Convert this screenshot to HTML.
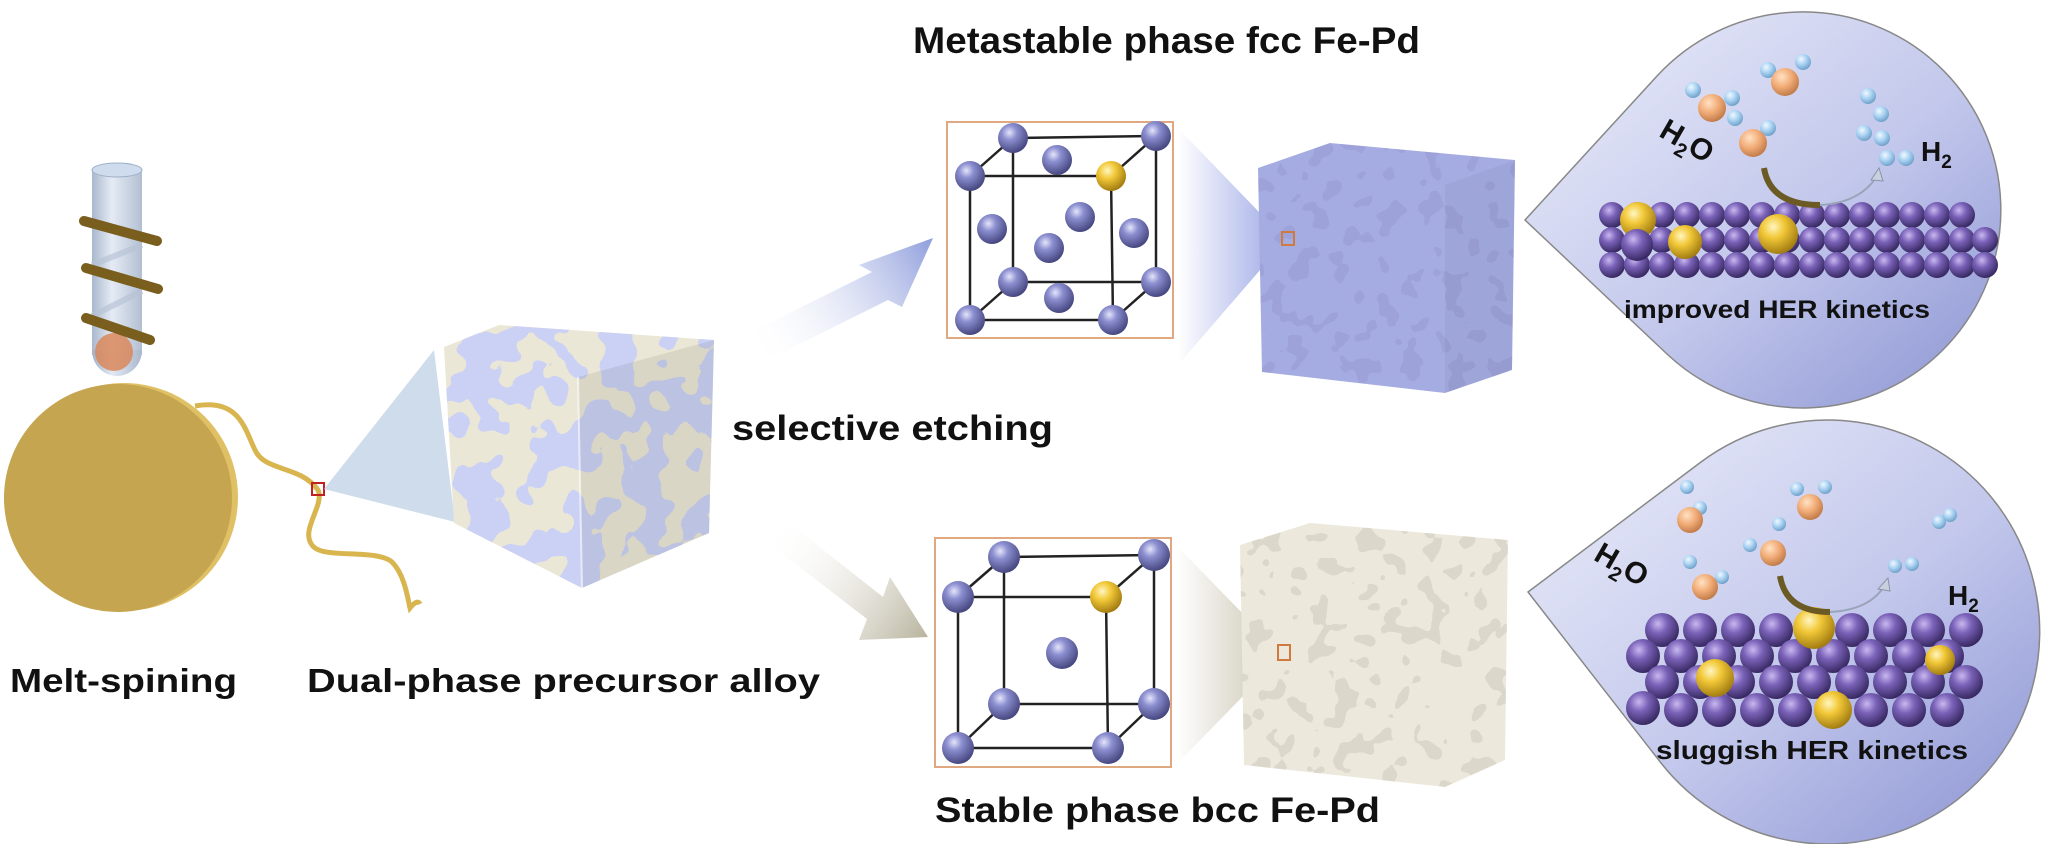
<!DOCTYPE html>
<html><head><meta charset="utf-8"><style>
html,body{margin:0;padding:0;background:#fff;}
svg{display:block;}
text{font-family:"Liberation Sans",Arial,sans-serif;font-weight:bold;fill:#111;}
</style></head><body>
<svg width="2048" height="844" viewBox="0 0 2048 844" xmlns="http://www.w3.org/2000/svg">
<defs>
<radialGradient id="pa" cx="38%" cy="32%" r="70%"><stop offset="0" stop-color="#e4e5fa"/><stop offset="0.35" stop-color="#8c8fd0"/><stop offset="1" stop-color="#44457e"/></radialGradient>
<radialGradient id="pb" cx="38%" cy="32%" r="70%"><stop offset="0" stop-color="#c9b8f0"/><stop offset="0.4" stop-color="#7a62b8"/><stop offset="1" stop-color="#35275f"/></radialGradient>
<radialGradient id="ya" cx="38%" cy="32%" r="70%"><stop offset="0" stop-color="#fff6c0"/><stop offset="0.4" stop-color="#f2c838"/><stop offset="1" stop-color="#a07a10"/></radialGradient>
<radialGradient id="oa" cx="38%" cy="32%" r="70%"><stop offset="0" stop-color="#ffe2c4"/><stop offset="0.5" stop-color="#f2ad78"/><stop offset="1" stop-color="#c07a48"/></radialGradient>
<radialGradient id="ha" cx="38%" cy="32%" r="70%"><stop offset="0" stop-color="#f0f8ff"/><stop offset="0.5" stop-color="#a9d2f2"/><stop offset="1" stop-color="#6e9fc8"/></radialGradient>
<linearGradient id="drop" x1="0" y1="0" x2="1" y2="1"><stop offset="0" stop-color="#eceef9"/><stop offset="0.55" stop-color="#c3c8ec"/><stop offset="1" stop-color="#8a93d2"/></linearGradient>
<linearGradient id="tube" x1="0" y1="0" x2="1" y2="0"><stop offset="0" stop-color="#9fb0c8"/><stop offset="0.4" stop-color="#e2e9f4"/><stop offset="1" stop-color="#aab8cc"/></linearGradient>
<linearGradient id="arrU" x1="751" y1="350" x2="933" y2="238" gradientUnits="userSpaceOnUse"><stop offset="0" stop-color="#fff" stop-opacity="0"/><stop offset="1" stop-color="#8e9ddc"/></linearGradient>
<linearGradient id="arrD" x1="771" y1="527" x2="928" y2="637" gradientUnits="userSpaceOnUse"><stop offset="0" stop-color="#fff" stop-opacity="0"/><stop offset="1" stop-color="#b8b39d"/></linearGradient>
<linearGradient id="wedgeB" x1="0" y1="0" x2="1" y2="0"><stop offset="0" stop-color="#fff"/><stop offset="1" stop-color="#8895e0"/></linearGradient>
<linearGradient id="wedgeC" x1="0" y1="0" x2="1" y2="0"><stop offset="0" stop-color="#fff"/><stop offset="1" stop-color="#bcb69e"/></linearGradient>
<filter id="fBlue" x="0" y="0" width="100%" height="100%">
<feTurbulence type="fractalNoise" baseFrequency="0.03" numOctaves="2" seed="4"/>
<feColorMatrix type="matrix" values="0 0 0 0 0.60  0 0 0 0 0.64  0 0 0 0 0.90  1 0 0 0 0"/>
<feComponentTransfer><feFuncA type="discrete" tableValues="0 0 0 0 0 1 1 1 1 1"/></feComponentTransfer>
</filter>
<filter id="fDark" x="0" y="0" width="100%" height="100%">
<feTurbulence type="fractalNoise" baseFrequency="0.045" numOctaves="2" seed="9"/>
<feColorMatrix type="matrix" values="0 0 0 0 0.2  0 0 0 0 0.2  0 0 0 0 0.45  1 0 0 0 0"/>
<feComponentTransfer><feFuncA type="discrete" tableValues="0 0 0 0 0 0 0.2 0.2 0.2 0.2"/></feComponentTransfer>
</filter>
<filter id="fGrey" x="0" y="0" width="100%" height="100%">
<feTurbulence type="fractalNoise" baseFrequency="0.045" numOctaves="2" seed="2"/>
<feColorMatrix type="matrix" values="0 0 0 0 0.45  0 0 0 0 0.43  0 0 0 0 0.36  1 0 0 0 0"/>
<feComponentTransfer><feFuncA type="discrete" tableValues="0 0 0 0 0 0 0.3 0.3 0.3 0.3"/></feComponentTransfer>
</filter>
<clipPath id="c1"><polygon points="444,347 499,325 714,340 709,533 582,588 454,523"/></clipPath>
<clipPath id="c2"><polygon points="1258,168 1330,143 1515,160 1512,370 1445,393 1262,372"/></clipPath>
<clipPath id="c3"><polygon points="1240,545 1310,523 1508,540 1505,760 1445,787 1244,765"/></clipPath>
</defs>

<!-- Tube -->
<rect x="92" y="170" width="50" height="185" fill="url(#tube)" opacity="0.9"/>
<ellipse cx="117" cy="170" rx="25" ry="7" fill="#cfdcee" stroke="#9fb0c8"/>
<path d="M92,350 A25,26 0 0 0 142,350 Z" fill="url(#tube)"/>
<circle cx="114" cy="352" r="19" fill="#d9875a" opacity="0.85"/>
<g stroke="#b8c4d6" stroke-width="6" opacity="0.7"><line x1="142" y1="245" x2="92" y2="265"/><line x1="142" y1="291" x2="92" y2="316"/></g>
<g stroke="#7a5e1e" stroke-width="10" stroke-linecap="round"><line x1="84" y1="221" x2="157" y2="241"/><line x1="86" y1="268" x2="158" y2="289"/><line x1="86" y1="318" x2="150" y2="340"/></g>

<!-- Wheel -->
<circle cx="124" cy="497" r="114" fill="#e0c064"/>
<circle cx="118" cy="498" r="114" fill="#c5a54f"/>
<path d="M195,406 C240,398 245,430 255,450 C265,472 300,465 318,490 C325,505 300,530 312,545 C322,560 375,548 392,562 C405,575 408,600 410,608 C414,603 418,600 420,604" fill="none" stroke="#d9b550" stroke-width="5"/>
<rect x="312" y="483" width="12" height="12" fill="none" stroke="#c02020" stroke-width="2"/>
<polygon points="324,489 434,350 455,522" fill="#c6d6e8" opacity="0.85"/>

<!-- Cube 1 -->
<rect x="440" y="320" width="280" height="272" fill="#ebe7d6" clip-path="url(#c1)"/>
<rect x="440" y="320" width="280" height="272" filter="url(#fBlue)" clip-path="url(#c1)"/>
<polygon points="578,377 714,340 709,533 582,588" fill="#000" opacity="0.07"/>
<line x1="578" y1="377" x2="582" y2="588" stroke="#fff" stroke-width="2" opacity="0.6"/>

<!-- Arrows -->
<polygon points="743,336 872,272 859,265 933,238 902,307 888,300 759,364" fill="url(#arrU)"/>
<polygon points="779,515 883,597 890,577 928,637 859,640 867,619 763,539" fill="url(#arrD)"/>

<!-- fcc box -->
<rect x="947" y="122" width="226" height="216" fill="#fff" stroke="#e0a880" stroke-width="2"/>
<g stroke="#222" stroke-width="2.5" fill="none">
<polygon points="970,176 1111,176 1113,320 970,320"/>
<polygon points="1013,138 1156,136 1156,282 1013,282"/>
<line x1="970" y1="176" x2="1013" y2="138"/><line x1="1111" y1="176" x2="1156" y2="136"/>
<line x1="970" y1="320" x2="1013" y2="282"/><line x1="1113" y1="320" x2="1156" y2="282"/>
</g>
<g fill="url(#pa)">
<circle cx="1013" cy="138" r="15"/><circle cx="1156" cy="136" r="15"/><circle cx="970" cy="176" r="15"/>
<circle cx="1057" cy="160" r="15"/><circle cx="992" cy="229" r="15"/><circle cx="1080" cy="217" r="15"/>
<circle cx="1134" cy="233" r="15"/><circle cx="1049" cy="248" r="15"/><circle cx="1013" cy="282" r="15"/>
<circle cx="1156" cy="282" r="15"/><circle cx="1059" cy="298" r="15"/><circle cx="970" cy="320" r="15"/><circle cx="1113" cy="320" r="15"/>
</g>
<circle cx="1111" cy="176" r="15" fill="url(#ya)"/>

<!-- bcc box -->
<rect x="935" y="538" width="236" height="229" fill="#fff" stroke="#e0a880" stroke-width="2"/>
<g stroke="#222" stroke-width="2.5" fill="none">
<polygon points="958,597 1106,597 1108,748 958,748"/>
<polygon points="1004,557 1154,555 1154,704 1004,704"/>
<line x1="958" y1="597" x2="1004" y2="557"/><line x1="1106" y1="597" x2="1154" y2="555"/>
<line x1="958" y1="748" x2="1004" y2="704"/><line x1="1108" y1="748" x2="1154" y2="704"/>
</g>
<g fill="url(#pa)">
<circle cx="1004" cy="557" r="16"/><circle cx="1154" cy="555" r="16"/><circle cx="958" cy="597" r="16"/>
<circle cx="1062" cy="653" r="16"/><circle cx="1004" cy="704" r="16"/><circle cx="1154" cy="704" r="16"/>
<circle cx="958" cy="748" r="16"/><circle cx="1108" cy="748" r="16"/>
</g>
<circle cx="1106" cy="597" r="16" fill="url(#ya)"/>

<!-- wedges -->
<polygon points="1178,128 1286,240 1178,365" fill="url(#wedgeB)" opacity="0.85"/>
<polygon points="1176,545 1283,655 1176,765" fill="url(#wedgeC)" opacity="0.85"/>

<!-- Blue cube -->
<rect x="1250" y="140" width="270" height="258" fill="#a5ace2" clip-path="url(#c2)"/>
<rect x="1250" y="140" width="270" height="258" filter="url(#fDark)" clip-path="url(#c2)"/>
<polygon points="1445,185 1515,160 1512,370 1445,393" fill="#000" opacity="0.04"/>
<rect x="1282" y="232" width="12" height="13" fill="none" stroke="#d07a40" stroke-width="2"/>

<!-- Cream cube -->
<rect x="1236" y="520" width="275" height="270" fill="#ece9dc" clip-path="url(#c3)"/>
<rect x="1236" y="520" width="275" height="270" filter="url(#fGrey)" clip-path="url(#c3)"/>
<rect x="1278" y="645" width="12" height="15" fill="none" stroke="#d07a40" stroke-width="2"/>

<!-- Droplet top -->
<path d="M1525,220 L1657,76 A198,198 0 1 1 1667,354 Z" fill="url(#drop)" stroke="#888" stroke-width="1.5"/>
<g fill="url(#pb)">
<circle cx="1612" cy="215" r="13"/><circle cx="1637" cy="215" r="13"/><circle cx="1662" cy="215" r="13"/><circle cx="1687" cy="215" r="13"/><circle cx="1712" cy="215" r="13"/><circle cx="1737" cy="215" r="13"/><circle cx="1762" cy="215" r="13"/><circle cx="1787" cy="215" r="13"/><circle cx="1812" cy="215" r="13"/><circle cx="1837" cy="215" r="13"/><circle cx="1862" cy="215" r="13"/><circle cx="1887" cy="215" r="13"/><circle cx="1912" cy="215" r="13"/><circle cx="1937" cy="215" r="13"/><circle cx="1962" cy="215" r="13"/>
<circle cx="1612" cy="240" r="13"/><circle cx="1637" cy="240" r="13"/><circle cx="1662" cy="240" r="13"/><circle cx="1687" cy="240" r="13"/><circle cx="1712" cy="240" r="13"/><circle cx="1737" cy="240" r="13"/><circle cx="1762" cy="240" r="13"/><circle cx="1787" cy="240" r="13"/><circle cx="1812" cy="240" r="13"/><circle cx="1837" cy="240" r="13"/><circle cx="1862" cy="240" r="13"/><circle cx="1887" cy="240" r="13"/><circle cx="1912" cy="240" r="13"/><circle cx="1937" cy="240" r="13"/><circle cx="1962" cy="240" r="13"/><circle cx="1985" cy="240" r="13"/>
<circle cx="1612" cy="265" r="13"/><circle cx="1637" cy="265" r="13"/><circle cx="1662" cy="265" r="13"/><circle cx="1687" cy="265" r="13"/><circle cx="1712" cy="265" r="13"/><circle cx="1737" cy="265" r="13"/><circle cx="1762" cy="265" r="13"/><circle cx="1787" cy="265" r="13"/><circle cx="1812" cy="265" r="13"/><circle cx="1837" cy="265" r="13"/><circle cx="1862" cy="265" r="13"/><circle cx="1887" cy="265" r="13"/><circle cx="1912" cy="265" r="13"/><circle cx="1937" cy="265" r="13"/><circle cx="1962" cy="265" r="13"/><circle cx="1985" cy="265" r="13"/>
</g>
<g fill="url(#ya)"><circle cx="1638" cy="220" r="18"/><circle cx="1685" cy="242" r="17"/><circle cx="1778" cy="234" r="20"/></g>
<circle cx="1637" cy="245" r="16" fill="url(#pb)"/>
<g fill="url(#ha)"><circle cx="1693" cy="90" r="8"/><circle cx="1732" cy="98" r="8"/><circle cx="1768" cy="70" r="8"/><circle cx="1803" cy="62" r="8"/><circle cx="1735" cy="118" r="8"/><circle cx="1768" cy="128" r="8"/></g>
<g fill="url(#oa)"><circle cx="1712" cy="108" r="14"/><circle cx="1785" cy="82" r="14"/><circle cx="1753" cy="143" r="14"/></g>
<g fill="url(#ha)"><circle cx="1868" cy="96" r="8"/><circle cx="1881" cy="114" r="8"/><circle cx="1864" cy="133" r="8"/><circle cx="1882" cy="138" r="8"/><circle cx="1887" cy="158" r="8"/><circle cx="1906" cy="158" r="8"/></g>
<path d="M1764,168 Q1770,205 1820,205" fill="none" stroke="#6b5a24" stroke-width="6"/>
<path d="M1820,205 Q1860,203 1877,176" fill="none" stroke="#9aa4b8" stroke-width="2"/>
<polygon points="1879,168 1871,180 1883,181" fill="#c8d0e0" stroke="#8a94a8"/>
<text x="1656" y="148" font-size="30" transform="rotate(30 1680 145)">H<tspan font-size="20" dy="8">2</tspan><tspan dy="-8">O</tspan></text>
<text x="1921" y="161" font-size="28">H<tspan font-size="19" dy="7">2</tspan></text>
<text x="1624" y="318" font-size="25" textLength="306" lengthAdjust="spacingAndGlyphs">improved HER kinetics</text>

<!-- Droplet bottom -->
<path d="M1528,592 L1701,462 A212,212 0 1 1 1661,763 Z" fill="url(#drop)" stroke="#888" stroke-width="1.5"/>
<g fill="url(#pb)">
<circle cx="1662" cy="630" r="17"/><circle cx="1700" cy="630" r="17"/><circle cx="1738" cy="630" r="17"/><circle cx="1776" cy="630" r="17"/><circle cx="1852" cy="630" r="17"/><circle cx="1890" cy="630" r="17"/><circle cx="1928" cy="630" r="17"/><circle cx="1966" cy="630" r="17"/>
<circle cx="1643" cy="656" r="17"/><circle cx="1681" cy="656" r="17"/><circle cx="1719" cy="656" r="17"/><circle cx="1757" cy="656" r="17"/><circle cx="1795" cy="656" r="17"/><circle cx="1833" cy="656" r="17"/><circle cx="1871" cy="656" r="17"/><circle cx="1909" cy="656" r="17"/><circle cx="1947" cy="656" r="17"/>
<circle cx="1662" cy="682" r="17"/><circle cx="1700" cy="682" r="17"/><circle cx="1738" cy="682" r="17"/><circle cx="1776" cy="682" r="17"/><circle cx="1814" cy="682" r="17"/><circle cx="1852" cy="682" r="17"/><circle cx="1890" cy="682" r="17"/><circle cx="1928" cy="682" r="17"/><circle cx="1966" cy="682" r="17"/>
<circle cx="1643" cy="708" r="17"/><circle cx="1681" cy="710" r="17"/><circle cx="1719" cy="710" r="17"/><circle cx="1757" cy="710" r="17"/><circle cx="1795" cy="710" r="17"/><circle cx="1871" cy="710" r="17"/><circle cx="1909" cy="710" r="17"/><circle cx="1947" cy="710" r="17"/>
</g>
<g fill="url(#ya)"><circle cx="1814" cy="628" r="21"/><circle cx="1715" cy="678" r="19"/><circle cx="1833" cy="710" r="19"/><circle cx="1940" cy="660" r="15"/></g>
<g fill="url(#ha)"><circle cx="1687" cy="487" r="7"/><circle cx="1700" cy="508" r="7"/><circle cx="1797" cy="489" r="7"/><circle cx="1825" cy="487" r="7"/><circle cx="1779" cy="524" r="7"/><circle cx="1750" cy="545" r="7"/><circle cx="1690" cy="562" r="7"/><circle cx="1722" cy="577" r="7"/><circle cx="1939" cy="522" r="7"/><circle cx="1950" cy="515" r="7"/><circle cx="1895" cy="566" r="7"/><circle cx="1912" cy="564" r="7"/></g>
<g fill="url(#oa)"><circle cx="1690" cy="520" r="13"/><circle cx="1810" cy="507" r="13"/><circle cx="1773" cy="553" r="13"/><circle cx="1705" cy="587" r="13"/></g>
<path d="M1780,576 Q1786,612 1830,612" fill="none" stroke="#6b5a24" stroke-width="6"/>
<path d="M1830,612 Q1870,610 1885,585" fill="none" stroke="#9aa4b8" stroke-width="2"/>
<polygon points="1888,578 1878,589 1890,591" fill="#c8d0e0" stroke="#8a94a8"/>
<text x="1590" y="572" font-size="30" transform="rotate(30 1615 570)">H<tspan font-size="20" dy="8">2</tspan><tspan dy="-8">O</tspan></text>
<text x="1948" y="605" font-size="28">H<tspan font-size="19" dy="7">2</tspan></text>
<text x="1656" y="759" font-size="26" textLength="312" lengthAdjust="spacingAndGlyphs">sluggish HER kinetics</text>

<!-- Labels -->
<text x="913" y="53" font-size="37" textLength="507" lengthAdjust="spacingAndGlyphs">Metastable phase fcc Fe-Pd</text>
<text x="732" y="440" font-size="35" textLength="321" lengthAdjust="spacingAndGlyphs">selective etching</text>
<text x="10" y="692" font-size="33" textLength="227" lengthAdjust="spacingAndGlyphs">Melt-spining</text>
<text x="307" y="692" font-size="33" textLength="513" lengthAdjust="spacingAndGlyphs">Dual-phase precursor alloy</text>
<text x="935" y="822" font-size="35" textLength="445" lengthAdjust="spacingAndGlyphs">Stable phase bcc Fe-Pd</text>
</svg>
</body></html>
